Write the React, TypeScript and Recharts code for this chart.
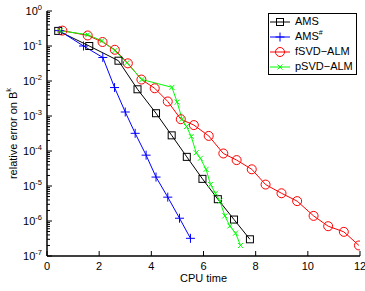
import { LineChart, Line, XAxis, YAxis, Legend } from 'recharts';

const FONT = '"Liberation Sans", Arial, Helvetica, sans-serif';

// CPU time / relative error
const AMS_TIME = [0.43, 1.62, 2.74, 3.47, 4.18, 4.78, 5.36, 5.96, 6.55, 7.17, 7.78];
const AMS_ERR = [0.27, 0.1, 0.038, 5.8e-3, 1.2e-3, 2.8e-4, 6.8e-5, 1.6e-5, 4.2e-6, 1.1e-6, 3.0e-7];

const AMSH_TIME = [0.47, 1.4, 2.14, 2.59, 3.0, 3.38, 3.8, 4.18, 4.63, 5.08, 5.5];
const AMSH_ERR = [0.275, 0.1, 0.047, 6.5e-3, 1.3e-3, 3.2e-4, 7.6e-5, 1.8e-5, 4.8e-6, 1.2e-6, 3.2e-7];

const FSVD_TIME = [0.59, 1.56, 2.13, 2.6, 3.1, 3.62, 4.13, 4.63, 5.13, 5.63, 6.2, 6.76, 7.27, 7.85, 8.38, 8.99, 9.59, 10.22, 10.78, 11.38, 11.96];
const FSVD_ERR = [0.275, 0.2, 0.13, 0.078, 0.032, 0.011, 6.2e-3, 2.6e-3, 8.1e-4, 5.5e-4, 2.7e-4, 8.5e-5, 5.5e-5, 3.0e-5, 1.1e-5, 6.2e-6, 3.7e-6, 1.4e-6, 7.1e-7, 4.9e-7, 2.0e-7];

const PSVD_TIME = [0.5, 1.56, 2.1, 2.6, 3.06, 3.64, 4.79, 4.99, 5.18, 5.35, 5.53, 5.72, 5.88, 6.1, 6.27, 6.46, 6.63, 6.82, 7.01, 7.23, 7.42];
const PSVD_ERR = [0.275, 0.21, 0.14, 0.074, 0.033, 0.011, 6.6e-3, 2.5e-3, 8.1e-4, 5.0e-4, 2.6e-4, 8.9e-5, 6.2e-5, 3.0e-5, 1.1e-5, 6.2e-6, 3.7e-6, 1.4e-6, 7.2e-7, 4.5e-7, 2.0e-7];

const X_TICKS = [0, 2, 4, 6, 8, 10, 12];
const Y_DECADES = [-7, -6, -5, -4, -3, -2, -1, 0];
const MINOR_STEPS = [2, 3, 4, 5, 6, 7, 8, 9];

const Y_TICKS = [
  ...Y_DECADES.map((d) => Math.pow(10, d)),
  ...Y_DECADES.slice(0, -1).flatMap((d) => MINOR_STEPS.map((m) => m * Math.pow(10, d))),
];

const toPoints = (t: number[], e: number[]) => t.map((time, i) => ({ time, err: e[i] }));

const amsData = toPoints(AMS_TIME, AMS_ERR);
const amshData = toPoints(AMSH_TIME, AMSH_ERR);
const fsvdData = toPoints(FSVD_TIME, FSVD_ERR);
const psvdData = toPoints(PSVD_TIME, PSVD_ERR);

const isMajor = (v: number) => Math.abs(Math.log10(v) - Math.round(Math.log10(v))) < 1e-6;

// markers
const Marker = ({ cx, cy, kind, color }: any) => {
  if (cx == null || cy == null) return null;
  if (kind === 'square')
    return <rect x={cx - 3.5} y={cy - 3.5} width={7} height={7} fill="none" stroke={color} strokeWidth={1} />;
  if (kind === 'circle') return <circle cx={cx} cy={cy} r={4.5} fill="none" stroke={color} strokeWidth={1} />;
  if (kind === 'plus')
    return (
      <path d={`M${cx - 4.5},${cy}H${cx + 4.5}M${cx},${cy - 4.5}V${cy + 4.5}`} stroke={color} strokeWidth={1} />
    );
  return (
    <path
      d={`M${cx - 2.5},${cy - 2.5}L${cx + 2.5},${cy + 2.5}M${cx - 2.5},${cy + 2.5}L${cx + 2.5},${cy - 2.5}`}
      stroke={color}
      strokeWidth={1}
    />
  );
};

const SERIES = [
  { key: 'ams', name: 'AMS', sup: '', color: '#000000', kind: 'square', data: amsData },
  { key: 'amsh', name: 'AMS', sup: '#', color: '#0000ff', kind: 'plus', data: amshData },
  { key: 'fsvd', name: 'fSVD\u2212ALM', sup: '', color: '#ff0000', kind: 'circle', data: fsvdData },
  { key: 'psvd', name: 'pSVD\u2212ALM', sup: '', color: '#00ff00', kind: 'x', data: psvdData },
];

const LeftTick = ({ x, y, payload }: any) => {
  const v = payload.value;
  const major = isMajor(v);
  const edge = x + 3;
  return (
    <g>
      <line x1={edge} x2={edge + (major ? 5 : 3)} y1={y} y2={y} stroke="#000" strokeWidth={1} />
      {major && (
        <text x={edge - 5} y={y + 4} textAnchor="end" fontFamily={FONT} fontSize={11} fill="#000">
          10
          <tspan dy={-5} fontSize={7.5}>
            {Math.round(Math.log10(v))}
          </tspan>
        </text>
      )}
    </g>
  );
};

const RightTick = ({ x, y, payload }: any) => {
  const major = isMajor(payload.value);
  return <line x1={x} x2={x - (major ? 5 : 3)} y1={y} y2={y} stroke="#000" strokeWidth={1} />;
};

const BottomTick = ({ x, y, payload }: any) => (
  <g>
    <line x1={x} x2={x} y1={y} y2={y - 5} stroke="#000" strokeWidth={1} />
    <text x={x} y={y + 14} textAnchor="middle" fontFamily={FONT} fontSize={11} fill="#000">
      {payload.value}
    </text>
  </g>
);

const TopTick = ({ x, y }: any) => <line x1={x} x2={x} y1={y} y2={y + 5} stroke="#000" strokeWidth={1} />;

const LegendBox = () => (
  <div
    style={{
      border: '1px solid #000',
      background: '#fff',
      padding: '0 3px 0 0',
      fontFamily: FONT,
      fontSize: 11,
      lineHeight: '15px',
      color: '#000',
    }}
  >
    {SERIES.map((s) => (
      <div key={s.key} style={{ display: 'flex', alignItems: 'center', height: 15 }}>
        <svg width={22} height={12} style={{ flexShrink: 0 }}>
          <line x1={1} x2={21} y1={6} y2={6} stroke={s.color} strokeWidth={1} />
          <Marker cx={11} cy={6} kind={s.kind} color={s.color} />
        </svg>
        <span style={{ marginLeft: 4, whiteSpace: 'nowrap' }}>
          {s.name}
          {s.sup && <sup style={{ fontSize: 7, verticalAlign: 'top', lineHeight: '8px' }}>{s.sup}</sup>}
        </span>
      </div>
    ))}
  </div>
);

export default function App() {
  return (
    <div style={{ position: 'absolute', left: 0, top: 0, background: '#fff' }}>
      <LineChart width={365} height={291} margin={{ top: 11, right: 5, bottom: 0, left: 0 }}>
        <XAxis
          dataKey="time"
          type="number"
          domain={[0, 12]}
          ticks={X_TICKS}
          interval={0}
          allowDataOverflow
          height={35}
          tickSize={0}
          tickMargin={0}
          tickLine={false}
          axisLine={{ stroke: '#000', strokeWidth: 1.5 }}
          tick={<BottomTick />}
          label={{
            content: ({ viewBox }: any) => (
              <text
                x={viewBox.x + viewBox.width / 2}
                y={viewBox.y + 26}
                textAnchor="middle"
                fontFamily={FONT}
                fontSize={11}
                fill="#000"
              >
                CPU time
              </text>
            ),
          }}
        />
        <XAxis
          xAxisId="top"
          orientation="top"
          dataKey="time"
          type="number"
          domain={[0, 12]}
          ticks={X_TICKS}
          interval={0}
          allowDataOverflow
          height={0}
          tickSize={0}
          tickMargin={0}
          tickLine={false}
          axisLine={{ stroke: '#000', strokeWidth: 1 }}
          tick={<TopTick />}
        />
        <YAxis
          dataKey="err"
          type="number"
          scale="log"
          domain={[1e-7, 1]}
          ticks={Y_TICKS}
          interval={0}
          allowDataOverflow
          width={47}
          tickSize={0}
          tickMargin={3}
          tickLine={false}
          axisLine={{ stroke: '#000', strokeWidth: 1.5 }}
          tick={<LeftTick />}
          label={{
            content: ({ viewBox }: any) => {
              const cy = viewBox.y + viewBox.height / 2;
              return (
                <text
                  x={13}
                  y={cy}
                  transform={`rotate(-90 13 ${cy})`}
                  textAnchor="middle"
                  dominantBaseline="central"
                  fontFamily={FONT}
                  fontSize={11}
                  fill="#000"
                >
                  relative error on B
                  <tspan dy={-5} fontSize={7.5}>
                    k
                  </tspan>
                </text>
              );
            },
          }}
        />
        <YAxis
          yAxisId="right"
          orientation="right"
          type="number"
          scale="log"
          domain={[1e-7, 1]}
          ticks={Y_TICKS}
          interval={0}
          allowDataOverflow
          width={0}
          tickSize={0}
          tickMargin={0}
          tickLine={false}
          axisLine={{ stroke: '#000', strokeWidth: 1 }}
          tick={<RightTick />}
        />
        <Legend
          layout="vertical"
          align="center"
          verticalAlign="middle"
          content={<LegendBox />}
          wrapperStyle={{ left: 268, top: 13, width: 'auto', height: 'auto' }}
        />
        {SERIES.map((s) => (
          <Line
            key={s.key}
            data={s.data}
            dataKey="err"
            name={s.name}
            stroke={s.color}
            strokeWidth={1}
            isAnimationActive={false}
            dot={(p: any) => <Marker key={`${s.key}-${p.index}`} cx={p.cx} cy={p.cy} kind={s.kind} color={s.color} />}
            activeDot={false}
          />
        ))}
      </LineChart>
    </div>
  );
}
